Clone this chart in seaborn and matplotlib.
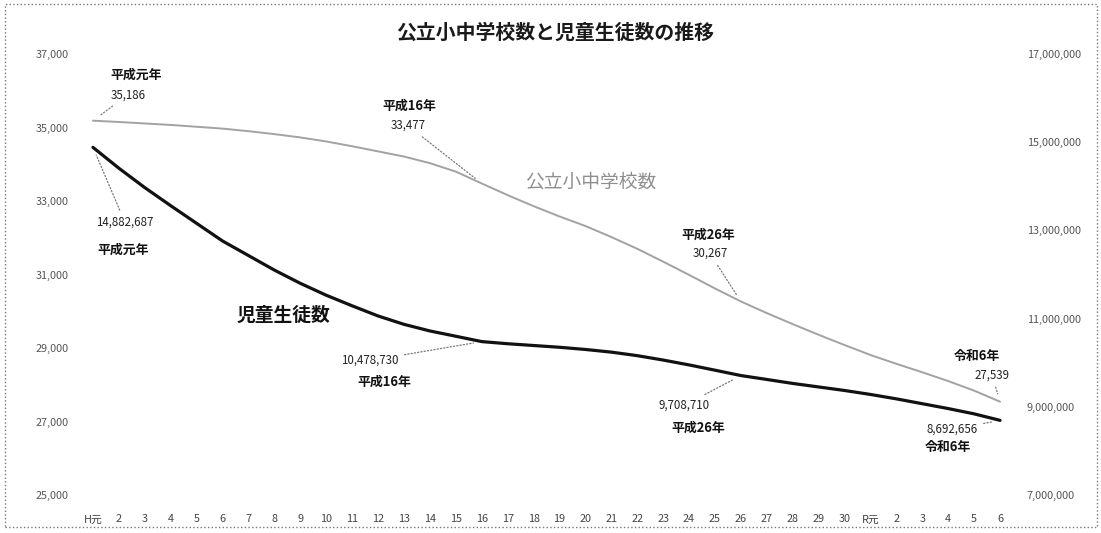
import matplotlib
matplotlib.use("Agg")
import matplotlib.pyplot as plt
from matplotlib.patches import Rectangle
import numpy as np
import pandas as pd
import seaborn as sns

# Year labels on the category axis (Heisei 1-30, Reiwa 1-6)
years = ["H元"] + [str(i) for i in range(2, 31)] + ["R元"] + [str(i) for i in range(2, 7)]

# Number of public elementary + junior high schools
schools = [35186, 35150, 35110, 35070, 35020, 34970, 34900, 34820, 34730, 34620,
           34490, 34350, 34210, 34030, 33800, 33477, 33160, 32860, 32580, 32320,
           32020, 31700, 31350, 30990, 30620, 30267, 29950, 29650, 29360, 29080,
           28810, 28570, 28340, 28100, 27840, 27539]

# Number of pupils and students in those schools
students = [14882687, 14410000, 13970000, 13560000, 13160000, 12760000, 12430000,
            12100000, 11800000, 11530000, 11290000, 11060000, 10870000, 10720000,
            10600000, 10478730, 10430000, 10390000, 10350000, 10300000, 10240000,
            10160000, 10060000, 9950000, 9830000, 9708710, 9620000, 9530000,
            9450000, 9370000, 9280000, 9180000, 9070000, 8960000, 8840000, 8692656]

left_ticks = [25000, 27000, 29000, 31000, 33000, 35000, 37000]
right_ticks = [7000000, 9000000, 11000000, 13000000, 15000000, 17000000]

# Highlighted points: (index, era-year caption)
school_marks = [(0, "平成元年"), (15, "平成16年"), (25, "平成26年"), (35, "令和6年")]
student_marks = [(0, "平成元年"), (15, "平成16年"), (25, "平成26年"), (35, "令和6年")]

title = "公立小中学校数と児童生徒数の推移"
school_name = "公立小中学校数"
student_name = "児童生徒数"

sns.set_theme(style="white")
plt.rcParams["font.family"] = ["Noto Sans CJK JP", "DejaVu Sans"]

df = pd.DataFrame({"pos": np.arange(len(years)), "schools": schools, "students": students})

W, H = 1101, 533
fig = plt.figure(figsize=(W / 100, H / 100), dpi=100)
fig.patch.set_facecolor("white")

top_px, bot_px, left_px, right_px = 54, 495, 80, 1013
ax = fig.add_axes([left_px / W, 1 - bot_px / H, (right_px - left_px) / W, (bot_px - top_px) / H])
ax2 = ax.twinx()

sns.lineplot(data=df, x="pos", y="schools", ax=ax, color="#a2a2a2", linewidth=1.4)
sns.lineplot(data=df, x="pos", y="students", ax=ax2, color="#111111", linewidth=2.3)

ax.set_xlim(-0.5, len(years) - 0.5)
ax.set_ylim(left_ticks[0], left_ticks[-1])
ax2.set_ylim(right_ticks[0], right_ticks[-1])

ax.set_xticks(df["pos"])
ax.set_xticklabels(years)
ax.set_yticks(left_ticks)
ax.set_yticklabels([f"{v:,}" for v in left_ticks])
ax2.set_yticks(right_ticks)
ax2.set_yticklabels([f"{v:,}" for v in right_ticks])

for a in (ax, ax2):
    a.set_xlabel("")
    a.set_ylabel("")
    a.grid(False)
    for s in a.spines.values():
        s.set_visible(False)
    a.set_facecolor("none")

ax.tick_params(axis="x", length=0, pad=14, labelsize=7.8, labelcolor="#444444")
ax.tick_params(axis="y", length=0, pad=8, labelsize=7.8, labelcolor="#555555")
ax2.tick_params(axis="y", length=0, pad=10, labelsize=7.8, labelcolor="#555555")

lead = dict(arrowstyle="-", linestyle=":", color="#777777", lw=0.9, shrinkA=2, shrinkB=6)

# Captions for the school-count line (offsets in pixels from the point)
school_offsets = {0: ((43, 46), (35, 26)), 15: ((-72, 78), (-74, 58)),
                  25: ((-33, 67), (-31, 48)), 35: ((-23, 46), (-8, 27))}
for idx, cap in school_marks:
    (cx, cy), (nx, ny) = school_offsets[idx]
    ax.annotate(cap, xy=(idx, schools[idx]), xytext=(cx, cy), textcoords="offset pixels",
                ha="center", va="center", fontsize=9.3, fontweight="bold", color="#111111")
    ax.annotate(f"{schools[idx]:,}", xy=(idx, schools[idx]), xytext=(nx, ny),
                textcoords="offset pixels", ha="center", va="center", fontsize=8.3,
                color="#222222", arrowprops=lead)

# Captions for the pupil-count line
student_offsets = {0: ((30, -102), (32, -75)), 15: ((-97, -40), (-112, -19)),
                   25: ((-43, -52), (-57, -30)), 35: ((-52, -27), (-48, -9))}
for idx, cap in student_marks:
    (cx, cy), (nx, ny) = student_offsets[idx]
    ax2.annotate(cap, xy=(idx, students[idx]), xytext=(cx, cy), textcoords="offset pixels",
                 ha="center", va="center", fontsize=9.3, fontweight="bold", color="#111111")
    ax2.annotate(f"{students[idx]:,}", xy=(idx, students[idx]), xytext=(nx, ny),
                 textcoords="offset pixels", ha="center", va="center", fontsize=8.3,
                 color="#222222", arrowprops=lead)

# Series names written next to the lines
ax.text(0.547, 0.709, school_name, transform=ax.transAxes, ha="center", va="center",
        fontsize=13.5, color="#8e8e8e")
ax.text(0.2176, 0.408, student_name, transform=ax.transAxes, ha="center", va="center",
        fontsize=13.5, fontweight="bold", color="#111111")

fig.text(0.504, 1 - 32 / H, title, ha="center", va="center", fontsize=14.3,
         fontweight="bold", color="#1a1a1a")

# Dotted chart border
fig.patches.append(Rectangle((5 / W, 6 / H), 1092 / W, 523 / H, transform=fig.transFigure,
                             fill=False, linestyle=":", linewidth=1.0, edgecolor="#777777"))

fig.savefig("out.png", dpi=100, facecolor="white")
